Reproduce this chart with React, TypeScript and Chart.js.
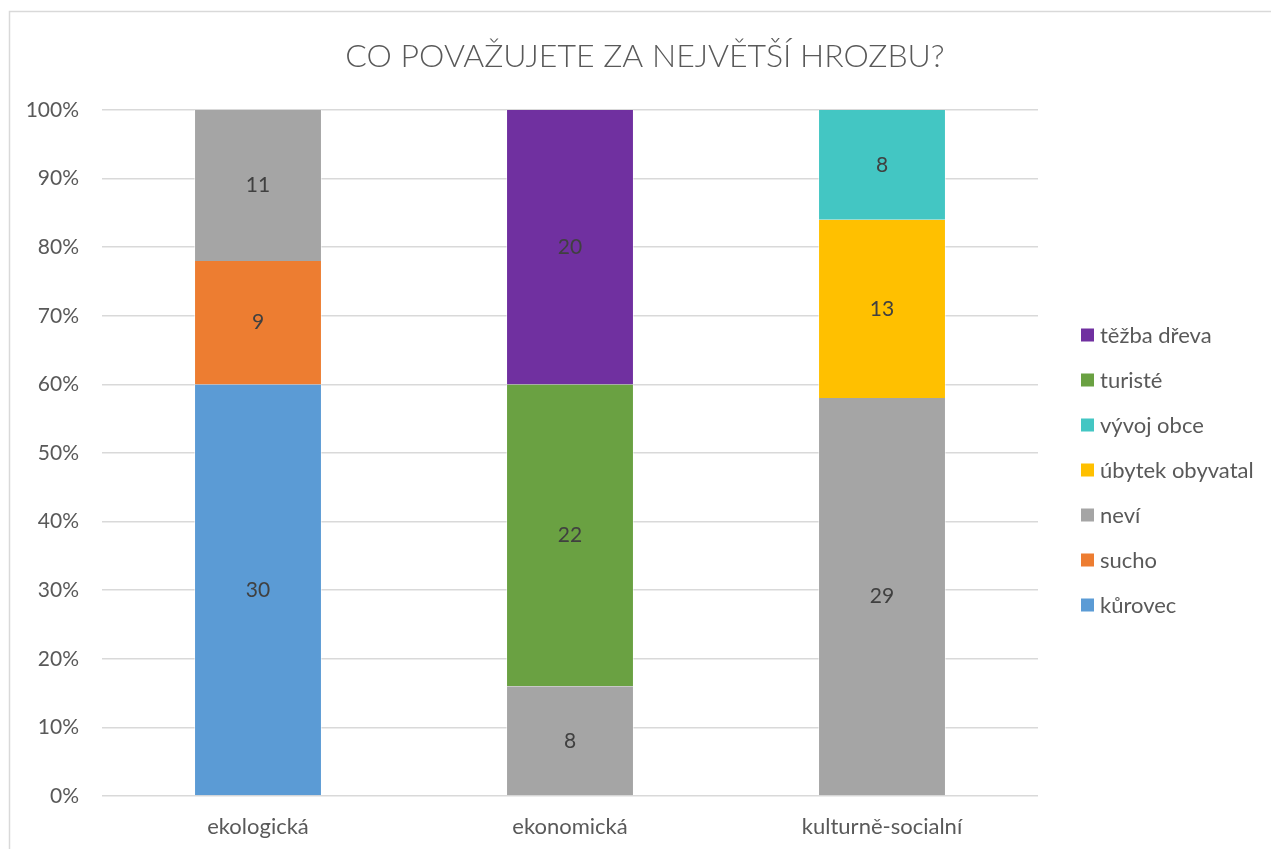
import React, { useEffect, useRef } from "react";
import { Chart, registerables } from "chart.js";

Chart.register(...registerables);

const TITLE = "CO POVAŽUJETE ZA NEJVĚTŠÍ HROZBU?";
const categories = ["ekologická", "ekonomická", "kulturně-socialní"];
const yTickValues = [0, 10, 20, 30, 40, 50, 60, 70, 80, 90, 100];

// raw counts per category (null = not present)
const kurovec = [30, null, null];
const sucho = [9, null, null];
const nevi = [11, 8, 29];
const ubytekObyvatal = [null, null, 13];
const vyvojObce = [null, null, 8];
const turiste = [null, 22, null];
const tezbaDreva = [null, 20, null];

const seriesNames = ["kůrovec", "sucho", "neví", "úbytek obyvatal", "vývoj obce", "turisté", "těžba dřeva"];
const seriesValues = [kurovec, sucho, nevi, ubytekObyvatal, vyvojObce, turiste, tezbaDreva];
const seriesColors = ["#5B9BD5", "#ED7D31", "#A5A5A5", "#FFC000", "#43C6C3", "#6AA142", "#7030A0"];

const FONT = "Lato, 'Open Sans', sans-serif";
const TEXT = "#595959";

export default function App() {
  const ref = useRef<HTMLCanvasElement | null>(null);

  useEffect(() => {
    document.body.style.margin = "0";
    document.body.style.overflow = "hidden";
    const canvas = ref.current;
    if (!canvas) return;

    const totals = categories.map((_, ci) =>
      seriesValues.reduce((s, arr) => s + (arr[ci] ?? 0), 0)
    );

    const datasets = seriesNames.map((name, si) => ({
      label: name,
      data: seriesValues[si].map((v, ci) => (v == null ? null : (v / totals[ci]) * 100)),
      raw: seriesValues[si],
      backgroundColor: seriesColors[si],
      borderColor: "rgba(255,255,255,0.5)",
      borderWidth: { left: 1, right: 1, top: 0, bottom: 0 },
      barPercentage: 0.41,
      categoryPercentage: 1,
    }));

    const framePlugin = {
      id: "frame",
      beforeDraw(chart: any) {
        const ctx = chart.ctx;
        ctx.save();
        ctx.fillStyle = "#ffffff";
        ctx.fillRect(0, 0, chart.width, chart.height);
        ctx.strokeStyle = "#d9d9d9";
        ctx.lineWidth = 1.5;
        ctx.strokeRect(9.5, 11.5, chart.width + 20, chart.height + 20);
        ctx.restore();
      },
    };

    const labelPlugin = {
      id: "valueLabels",
      afterDatasetsDraw(chart: any) {
        const ctx = chart.ctx;
        ctx.save();
        ctx.font = `21px ${FONT}`;
        ctx.fillStyle = "#404040";
        ctx.textAlign = "center";
        ctx.textBaseline = "middle";
        chart.data.datasets.forEach((ds: any, di: number) => {
          const meta = chart.getDatasetMeta(di);
          meta.data.forEach((el: any, i: number) => {
            const v = ds.raw[i];
            if (v == null) return;
            ctx.fillText(String(v), el.x, (el.y + el.base) / 2);
          });
        });
        ctx.restore();
      },
    };

    const titleLegendPlugin = {
      id: "titleLegend",
      afterDraw(chart: any) {
        const ctx = chart.ctx;
        ctx.save();
        ctx.font = `300 32px ${FONT}`;
        ctx.fillStyle = TEXT;
        ctx.textAlign = "center";
        ctx.textBaseline = "middle";
        ctx.fillText(TITLE, 645, 57);

        ctx.font = `22px ${FONT}`;
        ctx.textAlign = "left";
        const n = seriesNames.length;
        for (let k = 0; k < n; k++) {
          const si = n - 1 - k;
          const yc = 335 + k * 45;
          ctx.fillStyle = seriesColors[si];
          ctx.fillRect(1081, yc - 6.5, 13, 13);
          ctx.fillStyle = TEXT;
          ctx.fillText(seriesNames[si], 1100, yc + 1);
        }
        ctx.restore();
      },
    };

    const chart = new Chart(canvas, {
      type: "bar",
      data: { labels: categories, datasets: datasets as any },
      options: {
        animation: false,
        responsive: false,
        maintainAspectRatio: false,
        layout: { padding: { top: 110, right: 233, bottom: 0, left: 0 } },
        plugins: {
          legend: { display: false },
          title: { display: false },
          tooltip: { enabled: false },
        },
        scales: {
          x: {
            stacked: true,
            grid: { display: false, drawTicks: false },
            border: { display: false },
            ticks: {
              color: TEXT,
              font: { family: FONT, size: 22 },
              padding: 18,
            },
            afterFit(scale: any) {
              scale.height = 53;
            },
          },
          y: {
            stacked: true,
            min: 0,
            max: 100,
            afterBuildTicks(scale: any) {
              scale.ticks = yTickValues.map((v) => ({ value: v }));
            },
            grid: { color: "#d9d9d9", lineWidth: 1.5, drawTicks: false },
            border: { display: false },
            ticks: {
              color: TEXT,
              font: { family: FONT, size: 21 },
              padding: 23,
              callback: (v: any) => `${v}%`,
            },
            afterFit(scale: any) {
              scale.width = 102;
            },
          },
        },
      },
      plugins: [framePlugin, labelPlugin, titleLegendPlugin],
    });

    return () => chart.destroy();
  }, []);

  return (
    <div style={{ width: 1271, height: 849, position: "relative" }}>
      <canvas ref={ref} width={1271} height={849} style={{ display: "block", width: 1271, height: 849 }} />
    </div>
  );
}
